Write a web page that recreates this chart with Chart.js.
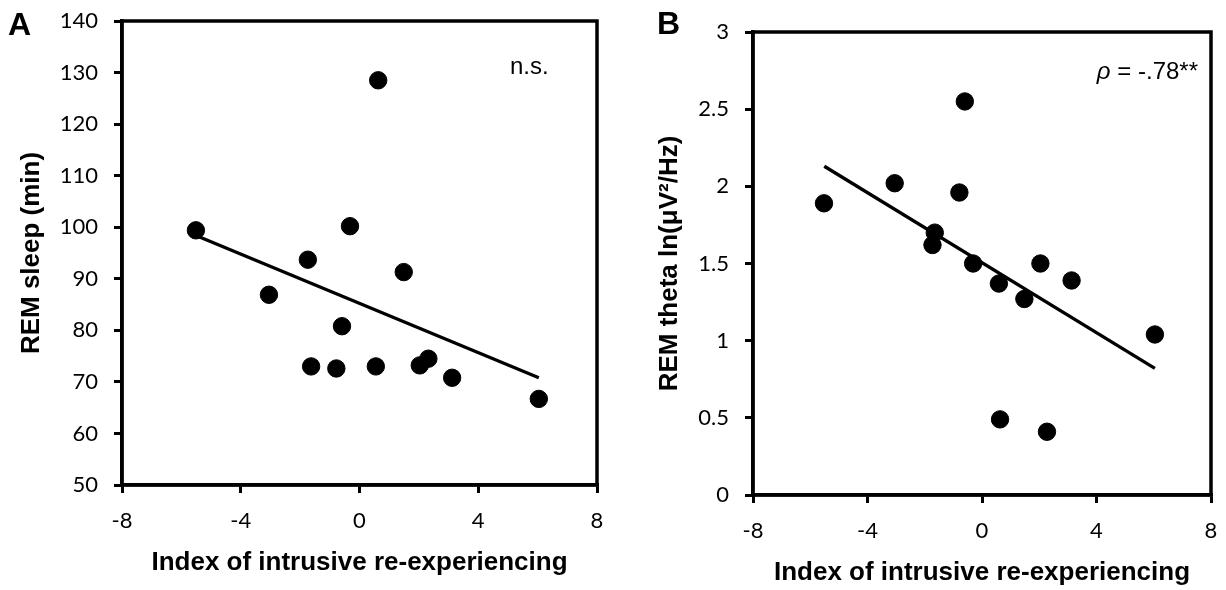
<!DOCTYPE html>
<html>
<head>
<meta charset="utf-8">
<script src="https://cdn.jsdelivr.net/npm/chart.js@4.4.1/dist/chart.umd.min.js"></script>
<style>
  body { margin: 0; background: #fff; }
  #wrap { position: relative; width: 1226px; height: 590px; }
  .panel { position: absolute; top: 0; height: 590px; }
  #panelA { left: 0; width: 610px; }
  #panelB { left: 610px; width: 616px; }
</style>
</head>
<body>
<div id="wrap">
  <div class="panel" id="panelA"><canvas id="chartA"></canvas></div>
  <div class="panel" id="panelB"><canvas id="chartB"></canvas></div>
</div>
<script>
// values
const intrusionA = [-5.51, -3.05, -1.74, -1.63, -0.78, -0.59, -0.32, 0.55, 0.63, 1.49, 2.03, 2.32, 3.12, 6.04];
const remSleep   = [99.4, 86.9, 93.7, 73.0, 72.6, 80.8, 100.2, 73.0, 128.5, 91.3, 73.2, 74.5, 70.8, 66.7];

const intrusionB = [-5.52, -3.05, -1.73, -1.65, -0.79, -0.60, -0.31, 0.59, 0.63, 1.48, 2.04, 2.27, 3.13, 6.04];
const remTheta   = [1.89, 2.02, 1.62, 1.70, 1.96, 2.55, 1.50, 1.37, 0.49, 1.27, 1.50, 0.41, 1.39, 1.04];

const trendX      = [-5.51, 6.04];
const trendSleep  = [98.4, 70.8];
const trendTheta  = [2.13, 0.82];

const xTickValues     = [-8, -4, 0, 4, 8];
const xTickLabels     = ['-8', '-4', '0', '4', '8'];
const sleepTickValues = [50, 60, 70, 80, 90, 100, 110, 120, 130, 140];
const sleepTickLabels = ['50', '60', '70', '80', '90', '100', '110', '120', '130', '140'];
const thetaTickValues = [0, 0.5, 1, 1.5, 2, 2.5, 3];
const thetaTickLabels = ['0', '0.5', '1', '1.5', '2', '2.5', '3'];

const xTitle = 'Index of intrusive re-experiencing';

const tickFont = { family: 'Lato, "Open Sans", sans-serif', size: 22 };
const titleFont = { family: '"Liberation Sans", Arial, sans-serif', size: 26, weight: 'bold' };

const toPoints = (xs, ys) => xs.map((x, i) => ({ x: x, y: ys[i] }));

// box around plot area, panel letter and stat label
const framePlugin = {
    id: 'frame',
    afterDraw(chart, args, opts) {
        const { ctx, chartArea: a } = chart;
        ctx.save();
        ctx.strokeStyle = '#000';
        ctx.lineWidth = 3.5;
        ctx.strokeRect(a.left, a.top, a.right - a.left, a.bottom - a.top);

        ctx.fillStyle = '#000';
        ctx.textBaseline = 'alphabetic';
        ctx.textAlign = 'left';
        ctx.font = 'bold 32px "Liberation Sans", Arial, sans-serif';
        ctx.fillText(opts.letter, opts.letterX, opts.letterY);

        ctx.font = '24px "Liberation Sans", Arial, sans-serif';
        if (opts.italicPart) {
            ctx.textAlign = 'right';
            const rest = opts.note;
            ctx.fillText(rest, opts.noteRight, opts.noteY);
            const w = ctx.measureText(rest).width;
            ctx.font = 'italic 24px "Liberation Sans", Arial, sans-serif';
            ctx.fillText(opts.italicPart, opts.noteRight - w, opts.noteY);
        } else {
            ctx.textAlign = 'left';
            ctx.fillText(opts.note, opts.noteLeft, opts.noteY);
        }
        ctx.restore();
    }
};

function noPad(s) {
    s.paddingTop = 0; s.paddingBottom = 0; s.paddingLeft = 0; s.paddingRight = 0;
}

function makePanel(canvasId, xs, ys, trendYs, yTicks, yLabels, yTitle, cfg) {
    const ctx = document.getElementById(canvasId).getContext('2d');
    return new Chart(ctx, {
        type: 'scatter',
        data: {
            datasets: [{
                data: toPoints(xs, ys),
                backgroundColor: '#000',
                borderColor: '#000',
                pointRadius: 8.7,
                pointHoverRadius: 8.7
            }, {
                type: 'line',
                data: toPoints(trendX, trendYs),
                borderColor: '#000',
                borderWidth: 3.3,
                pointRadius: 0,
                fill: false
            }]
        },
        options: {
            responsive: true,
            maintainAspectRatio: false,
            animation: false,
            layout: { padding: { top: cfg.top, right: cfg.right, left: 0, bottom: 0 } },
            plugins: {
                legend: { display: false },
                tooltip: { enabled: false },
                frame: cfg.frame
            },
            scales: {
                x: {
                    type: 'linear',
                    min: -8, max: 8,
                    afterBuildTicks: s => { s.ticks = xTickValues.map(v => ({ value: v })); },
                    afterFit: s => { s.height = cfg.xHeight; noPad(s); },
                    ticks: {
                        color: '#000', font: tickFont, padding: 15, maxRotation: 0,
                        callback: (v, i) => xTickLabels[i]
                    },
                    grid: { drawOnChartArea: false, drawTicks: true, tickLength: 8, color: '#000', lineWidth: 3 },
                    border: { display: true, color: '#000', width: 3.5 },
                    title: { display: true, text: xTitle, color: '#000', font: titleFont, padding: { bottom: cfg.xTitlePad } }
                },
                y: {
                    type: 'linear',
                    min: yTicks[0], max: yTicks[yTicks.length - 1],
                    afterBuildTicks: s => { s.ticks = yTicks.map(v => ({ value: v })); },
                    afterFit: s => { s.width = cfg.yWidth; noPad(s); },
                    ticks: {
                        color: '#000', font: tickFont, padding: 16,
                        callback: (v, i) => yLabels[i]
                    },
                    grid: { drawOnChartArea: false, drawTicks: true, tickLength: 8, color: '#000', lineWidth: 3 },
                    border: { display: true, color: '#000', width: 3.5 },
                    title: { display: true, text: yTitle, color: '#000', font: titleFont, padding: { top: cfg.yTitlePad } }
                }
            }
        },
        plugins: [framePlugin]
    });
}

makePanel('chartA', intrusionA, remSleep, trendSleep, sleepTickValues, sleepTickLabels, 'REM sleep (min)', {
    top: 21, right: 13, xHeight: 105, yWidth: 122, xTitlePad: 12, yTitlePad: 16,
    frame: { letter: 'A', letterX: 8, letterY: 35, note: 'n.s.', noteLeft: 510, noteY: 74 }
});

makePanel('chartB', intrusionB, remTheta, trendTheta, thetaTickValues, thetaTickLabels, 'REM theta ln(\u03bcV\u00b2/Hz)', {
    top: 32, right: 15, xHeight: 95, yWidth: 143, xTitlePad: 2, yTitlePad: 44,
    frame: { letter: 'B', letterX: 47, letterY: 34, italicPart: '\u03c1', note: ' = -.78**', noteRight: 588, noteY: 79 }
});
</script>
</body>
</html>
